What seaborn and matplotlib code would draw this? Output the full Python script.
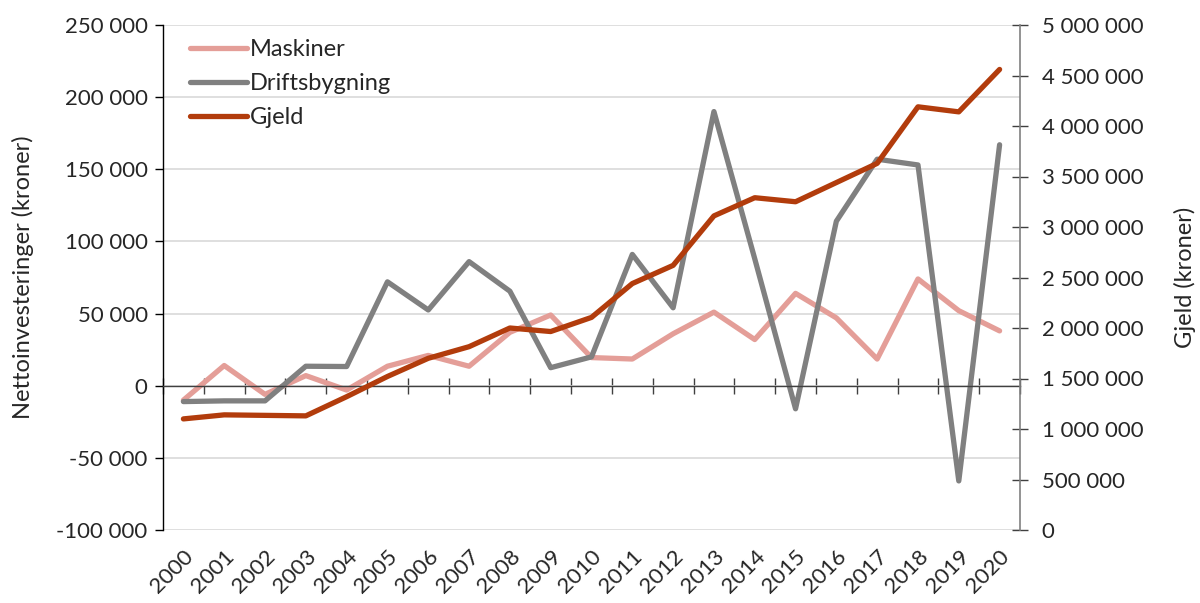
import matplotlib
matplotlib.use("Agg")
import matplotlib.pyplot as plt
import matplotlib.ticker as mticker
import seaborn as sns
import pandas as pd

years = list(range(2000, 2021))
maskiner = [-10000, 14000, -6000, 7000, -3000, 13500, 21000, 13500, 37000, 49000, 19500,
            18500, 36000, 51000, 32000, 64000, 47000, 18500, 74000, 52000, 38000]
driftsbygning = [-11000, -10500, -10500, 13500, 13300, 72000, 52500, 86000, 65500, 12500, 20000,
                 91000, 54000, 190000, 88000, -16000, 114000, 157000, 153000, -66000, 167000]
gjeld = [1100000, 1140000, 1135000, 1130000, 1320000, 1520000, 1700000, 1815000, 2000000, 1965000, 2105000,
         2440000, 2620000, 3110000, 3290000, 3250000, 3440000, 3630000, 4190000, 4140000, 4560000]

series_names = ["Maskiner", "Driftsbygning", "Gjeld"]
colors = {"Maskiner": "#E49E98", "Driftsbygning": "#808080", "Gjeld": "#B23C0C"}

df = pd.DataFrame({"År": years, "Maskiner": maskiner, "Driftsbygning": driftsbygning, "Gjeld": gjeld})

sns.set_theme(style="white")
plt.rcParams["font.family"] = ["Lato", "DejaVu Sans"]

fig = plt.figure(figsize=(12, 6.03), dpi=100)
ax = fig.add_axes([163/1200, 1 - 530/603, (1020-163)/1200, (530-25)/603])
ax2 = ax.twinx()

lw = 3.8
sns.lineplot(data=df, x="År", y="Maskiner", ax=ax, color=colors["Maskiner"], lw=lw,
             label="Maskiner", legend=False, solid_capstyle="round")
sns.lineplot(data=df, x="År", y="Driftsbygning", ax=ax, color=colors["Driftsbygning"], lw=lw,
             label="Driftsbygning", legend=False, solid_capstyle="round")
sns.lineplot(data=df, x="År", y="Gjeld", ax=ax2, color=colors["Gjeld"], lw=lw,
             label="Gjeld", legend=False, solid_capstyle="round")

fmt = mticker.FuncFormatter(lambda v, p: f"{v:,.0f}".replace(",", " "))

ax.set_xlim(years[0] - 0.5, years[-1] + 0.5)
ax.set_ylim(-100000, 250000)
ax.yaxis.set_major_locator(mticker.MultipleLocator(50000))
ax.yaxis.set_major_formatter(fmt)
ax2.set_ylim(0, 5000000)
ax2.yaxis.set_major_locator(mticker.MultipleLocator(500000))
ax2.yaxis.set_major_formatter(fmt)

ax.grid(axis="y", color="#D9D9D9", lw=1.2)
ax.grid(axis="x", visible=False)
ax.set_axisbelow(True)

# spines
ax.spines["top"].set_visible(False)
ax.spines["right"].set_visible(False)
ax2.spines["top"].set_visible(False)
ax2.spines["left"].set_visible(False)
ax2.spines["bottom"].set_visible(False)
ax.spines["left"].set_color("#000000")
ax.spines["left"].set_linewidth(1.0)
ax2.spines["right"].set_color("#808080")
ax2.spines["right"].set_linewidth(1.2)
ax.spines["bottom"].set_position(("data", 0))
ax.spines["bottom"].set_color("#404040")
ax.spines["bottom"].set_linewidth(1.0)

# x axis: boundary ticks on the zero line, labels at bottom via secondary axis
boundaries = [y - 0.5 for y in years] + [years[-1] + 0.5]
ax.set_xticks(boundaries)
ax.set_xticklabels([])
ax.tick_params(axis="x", which="major", direction="inout", length=11, width=1, color="#404040", bottom=True)
ax.set_xlabel("")

sec = ax.secondary_xaxis(0)
sec.set_xticks(years)
sec.set_xticklabels([str(y) for y in years], rotation=45, ha="right", va="top",
                    rotation_mode="anchor", fontsize=16)
sec.tick_params(axis="x", length=0, pad=12)
sec.spines["bottom"].set_visible(False)

ax.tick_params(axis="y", which="major", direction="out", length=6, width=1, color="#000000",
               labelsize=16, left=True, pad=5)
ax2.tick_params(axis="y", which="major", direction="inout", length=11, width=1, color="#404040",
                labelsize=16, right=True, pad=10)

ax.set_ylabel("Nettoinvesteringer (kroner)", fontsize=17, labelpad=16)
ax2.set_ylabel("Gjeld (kroner)", fontsize=17, labelpad=22)

h1, l1 = ax.get_legend_handles_labels()
h2, l2 = ax2.get_legend_handles_labels()
leg = ax2.legend(h1 + h2, l1 + l2, loc="upper left", bbox_to_anchor=(0.015, 1.0), frameon=False,
                 fontsize=17, handlelength=2.4, handletextpad=0.15, labelspacing=0.55, borderaxespad=0.2)

fig.savefig("out.png", dpi=100)
